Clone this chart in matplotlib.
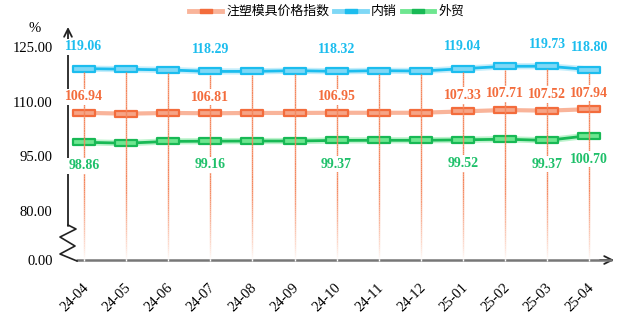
import numpy as np
import matplotlib
matplotlib.use("Agg")
import matplotlib.pyplot as plt
import matplotlib.transforms as mtrans
from matplotlib.path import Path
from matplotlib.lines import Line2D
from matplotlib.collections import LineCollection

plt.rcParams['font.family'] = ['Noto Sans CJK SC', 'DejaVu Sans']

months = ['24-04', '24-05', '24-06', '24-07', '24-08', '24-09', '24-10',
          '24-11', '24-12', '25-01', '25-02', '25-03', '25-04']
neixiao = [119.06, 118.9, 118.7, 118.29, 118.3, 118.5, 118.32, 118.5, 118.4, 119.04, 119.7, 119.73, 118.80]
zhusu = [106.94, 106.7, 106.9, 106.81, 106.9, 106.9, 106.95, 106.95, 106.95, 107.33, 107.71, 107.52, 107.94]
waimao = [98.86, 98.6, 99.1, 99.16, 99.2, 99.2, 99.37, 99.4, 99.4, 99.52, 99.7, 99.37, 100.70]

# which points get a value label
blue_lab = [0, 3, 6, 9, 11, 12]
orange_lab = [0, 3, 6, 9, 10, 11, 12]
green_lab = [0, 3, 6, 9, 11, 12]

yticks = [80, 95, 110, 125]
y_zero = 66.56  # where "0.00" sits on the broken axis

blue_c, blue_f = '#1cbdee', '#7fd8f6'
orng_c, orng_f = '#f36c3c', '#f6a486'
grn_c, grn_f = '#18b955', '#6ee690'
orng_line = '#f9b49a'
drop_c = '#f4865c'

fig = plt.figure(figsize=(6.35, 3.22), dpi=100)
L, R, T, B = 68, 612, 28, 260
ax = fig.add_axes([L / 635, 1 - B / 322, (R - L) / 635, (B - T) / 322])
x = np.arange(len(months))
ax.set_xlim((L - 84) / 42.1, (R - 84) / 42.1)
ax.set_ylim(y_zero, 80 + (211 - T) / 3.645)
for s in ax.spines.values():
    s.set_visible(False)

rect = Path([(-1, -0.27), (1, -0.27), (1, 0.27), (-1, 0.27), (-1, -0.27)],
            [Path.MOVETO, Path.LINETO, Path.LINETO, Path.LINETO, Path.CLOSEPOLY])

def series(vals, c, f, halo):
    ax.plot(x, vals, color=halo, lw=4.5, alpha=0.45, solid_capstyle='round', zorder=3)
    ax.plot(x, vals, color=c, lw=2, zorder=3)
    ax.plot(x, vals, ls='none', marker=rect, ms=16, mfc=f, mec=c, mew=1.6, zorder=4)

series(neixiao, blue_c, blue_f, blue_f)
ax.plot(x, zhusu, color=orng_line, lw=3, zorder=3)
ax.plot(x, zhusu, ls='none', marker=rect, ms=16, mfc=orng_f, mec=orng_c, mew=1.6, zorder=4)
series(waimao, grn_c, grn_f, grn_f)

# drop lines with fade toward the bottom (ends white over the axis)
base = np.array(matplotlib.colors.to_rgb(drop_c))
segs, cols = [], []
for i in x:
    top = neixiao[i] - 0.9
    ys = np.linspace(top, y_zero - 0.4, 90)
    for k in range(len(ys) - 1):
        segs.append([(i, ys[k]), (i, ys[k + 1])])
        t = np.clip((ys[k] - y_zero - 0.5) / 20.0, 0, 1) ** 0.8
        cols.append(tuple(base * t + np.ones(3) * (1 - t)))
ax.add_collection(LineCollection(segs, colors=cols, lw=1, zorder=5, clip_on=False))

lab_font = dict(family=['Liberation Serif'], fontweight='bold', fontsize=10,
                ha='center', va='center', zorder=6)
box = dict(facecolor='white', edgecolor='none', pad=1.2)
for i in blue_lab:
    ax.text(i, neixiao[i] + 6.0, f'{neixiao[i]:.2f}', color=blue_c, bbox=box, **lab_font)
for i in orange_lab:
    ax.text(i, zhusu[i] + 4.4, f'{zhusu[i]:.2f}', color=orng_c, bbox=box, **lab_font)
for i in green_lab:
    ax.text(i, waimao[i] - 6.5, f'{waimao[i]:.2f}', color='#1fc06a', bbox=box, **lab_font)

# ticks
ax.set_yticks([y_zero] + yticks)
ax.set_yticklabels(['0.00'] + [f'{v:.2f}' for v in yticks],
                   family='Liberation Serif', fontsize=10.5)
ax.tick_params(axis='y', length=0, pad=11)
ax.set_xticks(x)
ax.set_xticklabels(months, rotation=45, ha='right', va='top', rotation_mode='anchor',
                   family='Liberation Serif', fontsize=10.5)
ax.tick_params(axis='x', length=0, pad=15)
shift = mtrans.ScaledTranslation(-2 / 100, 0, fig.dpi_scale_trans)
for lbl in ax.get_xticklabels():
    lbl.set_transform(lbl.get_transform() + shift)

# axis lines: left with zigzag break, bottom in grey, both with arrows
def px(xp, yp):
    return (xp - 84) / 42.1, 80 + (211 - yp) / 3.645

ax.annotate('', xy=px(68, 27), xytext=px(68, 226), annotation_clip=False,
            arrowprops=dict(arrowstyle='->', lw=1.3, color='#222222', mutation_scale=14,
                            shrinkA=0, shrinkB=0))
zz = [px(68, 225), px(76, 229), px(60, 237), px(75, 246), px(60, 254), px(77, 261)]
ax.plot([p[0] for p in zz], [p[1] for p in zz], color='#222222', lw=1.2, clip_on=False, zorder=6)
ax.plot([px(76, 260)[0], px(612, 260)[0]], [y_zero, y_zero], color='#777777', lw=1.8,
        clip_on=False, zorder=4, solid_capstyle='butt')
ax.annotate('', xy=px(614, 260), xytext=px(600, 260), annotation_clip=False,
            arrowprops=dict(arrowstyle='->', lw=1.3, color='#222222', mutation_scale=14,
                            shrinkA=0, shrinkB=0))
ax.text(*px(35, 28), '%', family=['Liberation Serif'], fontsize=10.5, ha='center', va='center')

handles = [
    Line2D([], [], color=orng_line, lw=3.5, label='注塑模具价格指数'),
    Line2D([], [], color=blue_f, lw=3.5, label='内销'),
    Line2D([], [], color=grn_f, lw=3.5, label='外贸'),
]
inner = [orng_c, blue_c, grn_c]
h2 = [Line2D([], [], color=c, lw=0, marker=rect, ms=9, mfc=c, mec=c) for c in inner]
leg = fig.legend([(a, b) for a, b in zip(handles, h2)], [h.get_label() for h in handles],
                 loc='upper center', bbox_to_anchor=(0.515, 1.02), ncol=3, frameon=False,
                 fontsize=9.3, handlelength=2.5, handletextpad=0.35, columnspacing=0.4)

fig.savefig('out.png', dpi=100)
